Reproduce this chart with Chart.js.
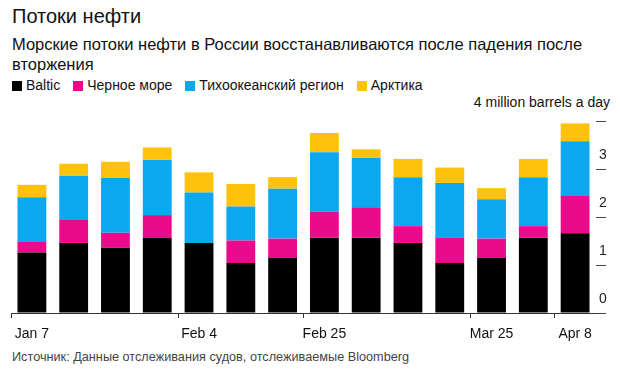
<!DOCTYPE html>
<html>
<head>
<meta charset="utf-8">
<script src="https://cdn.jsdelivr.net/npm/chart.js@4"></script>
<style>
  body { margin: 0; width: 620px; height: 372px; background: #fff; font-family: "Liberation Sans", Arial, sans-serif; color: #111; position: relative; overflow: hidden; }
  #title { position: absolute; left: 12px; top: 5px; font-size: 20px; }
  #subtitle { position: absolute; left: 12px; top: 34px; width: 600px; font-size: 16.5px; line-height: 20px; }
  #legend { position: absolute; left: 12px; top: 77px; font-size: 14px; }
  #legend span.item { margin-right: 13px; }
  #legend span.sw { display: inline-block; width: 10px; height: 10px; margin-right: 4px; vertical-align: -1px; }
  #unit { position: absolute; right: 10px; top: 94px; font-size: 14px; }
  #source { position: absolute; left: 12px; top: 350px; font-size: 12.7px; color: #444; }
  #wrap { position: absolute; left: 0; top: 100px; width: 620px; height: 250px; }
</style>
</head>
<body>
<div id="title">Потоки нефти</div>
<div id="subtitle">Морские потоки нефти в России восстанавливаются после падения после вторжения</div>
<div id="legend"></div>
<div id="unit">4 million barrels a day</div>
<div id="wrap"><canvas id="chart"></canvas></div>
<div id="source">Источник: Данные отслеживания судов, отслеживаемые Bloomberg</div>
<script>
// weekly sea-borne flows, million barrels a day
const weeks = ['Jan 7', 'Jan 14', 'Jan 21', 'Jan 28', 'Feb 4', 'Feb 11', 'Feb 18',
               'Feb 25', 'Mar 4', 'Mar 11', 'Mar 18', 'Mar 25', 'Apr 1', 'Apr 8'];
const shownWeeks = ['Jan 7', 'Feb 4', 'Feb 25', 'Mar 25', 'Apr 8'];
const baltic   = [1.26, 1.46, 1.36, 1.56, 1.46, 1.04, 1.15, 1.57, 1.57, 1.46, 1.04, 1.15, 1.57, 1.66];
const blackSea = [0.22, 0.49, 0.31, 0.48, 0.00, 0.47, 0.40, 0.54, 0.62, 0.35, 0.53, 0.40, 0.24, 0.78];
const pacific  = [0.93, 0.91, 1.14, 1.15, 1.05, 0.71, 1.04, 1.24, 1.04, 1.02, 1.14, 0.82, 1.02, 1.14];
const arctic   = [0.26, 0.25, 0.34, 0.26, 0.42, 0.47, 0.24, 0.40, 0.18, 0.38, 0.32, 0.23, 0.38, 0.37];
const yTicks = [0, 1, 2, 3, 4];

const seriesNames = ['Baltic', 'Черное море', 'Тихоокеанский регион', 'Арктика'];
const seriesColors = ['#000000', '#ec0a8c', '#0ba8f0', '#ffc20a'];
const seriesData = [baltic, blackSea, pacific, arctic];

//legend is plain html, the chart's own legend is off
const legend = document.getElementById('legend');
seriesNames.forEach((name, i) => {
    legend.innerHTML += `<span class="item"><span class="sw" style="background:${seriesColors[i]}"></span>${name}</span>`;
});

const datasets = seriesNames.map((name, i) => ({
    label: name,
    data: seriesData[i],
    backgroundColor: seriesColors[i],
    borderWidth: 0,
    barPercentage: 0.69,
    categoryPercentage: 1
}));

const ctx = document.getElementById('chart').getContext('2d');
new Chart(ctx, {
    type: 'bar',
    data: { labels: weeks, datasets: datasets },
    options: {
        animation: false,
        responsive: true,
        maintainAspectRatio: false,
        layout: { padding: { left: 11, right: 0, top: 21, bottom: 0 } },
        plugins: { legend: { display: false }, tooltip: { enabled: false } },
        scales: {
            x: {
                stacked: true,
                border: { color: '#333', width: 1 },
                grid: {
                    drawOnChartArea: false,
                    tickLength: 5,
                    tickColor: (c) => shownWeeks.includes(weeks[c.index]) ? '#333' : 'rgba(0,0,0,0)'
                },
                ticks: {
                    autoSkip: false,
                    maxRotation: 0,
                    padding: 8,
                    color: '#111',
                    font: { family: 'Liberation Sans', size: 14 },
                    callback: (v, i) => shownWeeks.includes(weeks[i]) ? weeks[i] : ''
                },
                afterFit: (scale) => { scale.height = 37; }
            },
            y: {
                stacked: true,
                position: 'right',
                min: 0,
                max: 4,
                border: { display: false },
                afterBuildTicks: (scale) => { scale.ticks = yTicks.map(v => ({ value: v })); },
                grid: { drawOnChartArea: false, tickLength: 10, tickColor: '#444' },
                ticks: {
                    padding: -7,
                    labelOffset: -14,
                    color: '#222',
                    font: { family: 'Liberation Sans', size: 14 },
                    callback: (v) => v === 4 ? '' : v
                },
                afterFit: (scale) => { scale.width = 24; }
            }
        }
    }
});
</script>
</body>
</html>
